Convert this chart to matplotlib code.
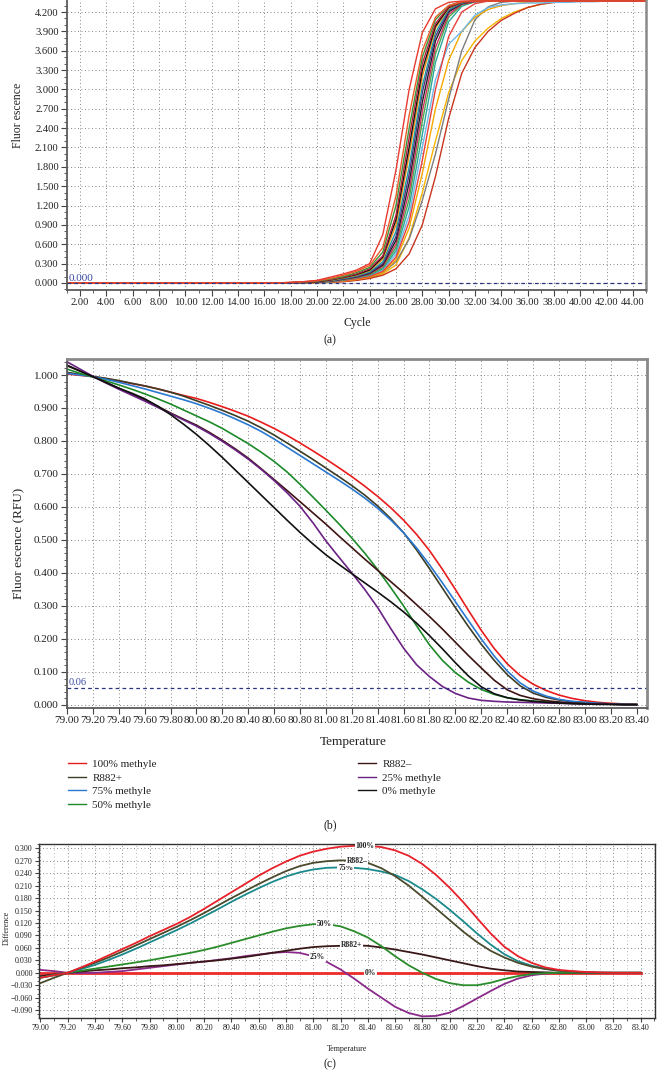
import numpy as np
import matplotlib
matplotlib.use("Agg")
import matplotlib.pyplot as plt
from matplotlib.ticker import MultipleLocator, FormatStrFormatter

plt.rcParams['font.family'] = ['Liberation Serif', 'DejaVu Serif']

# ---------------- Panel (a): amplification curves ----------------
cycles = np.arange(1, 46)
amp_red = [0,0,0,0,0,0,0,0,0,0,0,0,0,0,0,0,0,0.01,0.02,0.04,0.09,0.14,0.20,0.30,0.75,1.75,3.00,3.88,4.25,4.35,4.37,4.37,4.37,4.37,4.37,4.37,4.37,4.37,4.37,4.37,4.37,4.37,4.37,4.37,4.37]
amp_orangered = [0,0,0,0,0,0,0,0,0,0,0,0,0,0,0,0,0,0.01,0.02,0.035,0.07,0.12,0.18,0.27,0.55,1.35,2.60,3.60,4.12,4.30,4.36,4.37,4.37,4.37,4.37,4.37,4.37,4.37,4.37,4.37,4.37,4.37,4.37,4.37,4.37]
amp_green = [0,0,0,0,0,0,0,0,0,0,0,0,0,0,0,0,0,0.005,0.015,0.03,0.06,0.10,0.16,0.24,0.48,1.20,2.40,3.50,4.08,4.30,4.36,4.37,4.37,4.37,4.37,4.37,4.37,4.37,4.37,4.37,4.37,4.37,4.37,4.37,4.37]
amp_crimson = [0,0,0,0,0,0,0,0,0,0,0,0,0,0,0,0,0,0.005,0.012,0.025,0.05,0.09,0.14,0.22,0.42,1.05,2.25,3.40,4.02,4.28,4.35,4.37,4.37,4.37,4.37,4.37,4.37,4.37,4.37,4.37,4.37,4.37,4.37,4.37,4.37]
amp_black = [0,0,0,0,0,0,0,0,0,0,0,0,0,0,0,0,0,0.005,0.01,0.02,0.045,0.085,0.13,0.20,0.40,0.98,2.10,3.30,3.98,4.27,4.35,4.37,4.37,4.37,4.37,4.37,4.37,4.37,4.37,4.37,4.37,4.37,4.37,4.37,4.37]
amp_orange = [0,0,0,0,0,0,0,0,0,0,0,0,0,0,0,0,0,0.004,0.01,0.02,0.04,0.08,0.12,0.19,0.37,0.90,1.98,3.20,3.95,4.26,4.35,4.37,4.37,4.37,4.37,4.37,4.37,4.37,4.37,4.37,4.37,4.37,4.37,4.37,4.37]
amp_teal = [0,0,0,0,0,0,0,0,0,0,0,0,0,0,0,0,0,0.004,0.008,0.018,0.035,0.07,0.11,0.17,0.33,0.80,1.80,3.05,3.88,4.24,4.34,4.37,4.37,4.37,4.37,4.37,4.37,4.37,4.37,4.37,4.37,4.37,4.37,4.37,4.37]
amp_purple = [0,0,0,0,0,0,0,0,0,0,0,0,0,0,0,0,0,0.003,0.008,0.016,0.03,0.065,0.10,0.16,0.30,0.72,1.68,2.95,3.82,4.22,4.34,4.37,4.37,4.37,4.37,4.37,4.37,4.37,4.37,4.37,4.37,4.37,4.37,4.37,4.37]
amp_black2 = [0,0,0,0,0,0,0,0,0,0,0,0,0,0,0,0,0,0.003,0.007,0.015,0.03,0.06,0.095,0.15,0.28,0.66,1.55,2.80,3.75,4.20,4.33,4.37,4.37,4.37,4.37,4.37,4.37,4.37,4.37,4.37,4.37,4.37,4.37,4.37,4.37]
amp_crimson2 = [0,0,0,0,0,0,0,0,0,0,0,0,0,0,0,0,0,0.003,0.006,0.013,0.027,0.055,0.09,0.14,0.26,0.60,1.42,2.65,3.65,4.16,4.32,4.36,4.37,4.37,4.37,4.37,4.37,4.37,4.37,4.37,4.37,4.37,4.37,4.37,4.37]
amp_green2 = [0,0,0,0,0,0,0,0,0,0,0,0,0,0,0,0,0,0.002,0.005,0.012,0.025,0.05,0.085,0.13,0.24,0.55,1.30,2.50,3.55,4.12,4.31,4.36,4.37,4.37,4.37,4.37,4.37,4.37,4.37,4.37,4.37,4.37,4.37,4.37,4.37]
amp_teal2 = [0,0,0,0,0,0,0,0,0,0,0,0,0,0,0,0,0,0.002,0.005,0.011,0.022,0.045,0.08,0.12,0.22,0.50,1.18,2.30,3.42,4.05,4.29,4.36,4.37,4.37,4.37,4.37,4.37,4.37,4.37,4.37,4.37,4.37,4.37,4.37,4.37]
amp_lightblue = [0,0,0,0,0,0,0,0,0,0,0,0,0,0,0,0,0,0.002,0.005,0.01,0.02,0.04,0.07,0.11,0.20,0.45,1.05,2.10,3.15,3.70,3.90,4.15,4.27,4.31,4.33,4.34,4.34,4.35,4.35,4.36,4.36,4.37,4.37,4.37,4.37]
amp_red2 = [0,0,0,0,0,0,0,0,0,0,0,0,0,0,0,0,0,0.002,0.004,0.009,0.018,0.035,0.065,0.10,0.18,0.40,0.95,1.90,3.00,3.82,4.20,4.33,4.37,4.37,4.37,4.37,4.37,4.37,4.37,4.37,4.37,4.37,4.37,4.37,4.37]
amp_yellow = [0,0,0,0,0,0,0,0,0,0,0,0,0,0,0,0,0,0.002,0.004,0.008,0.016,0.03,0.055,0.09,0.16,0.36,0.85,1.70,2.70,3.45,3.90,4.12,4.24,4.30,4.33,4.35,4.36,4.37,4.37,4.37,4.37,4.37,4.37,4.37,4.37]
amp_yellow2 = [0,0,0,0,0,0,0,0,0,0,0,0,0,0,0,0,0,0.001,0.003,0.007,0.014,0.027,0.05,0.08,0.14,0.28,0.70,1.40,2.20,2.95,3.45,3.75,3.95,4.10,4.20,4.27,4.32,4.35,4.36,4.37,4.37,4.37,4.37,4.37,4.37]
amp_gray = [0,0,0,0,0,0,0,0,0,0,0,0,0,0,0,0,0,0.001,0.003,0.006,0.012,0.025,0.045,0.08,0.16,0.33,0.68,1.28,2.00,2.85,3.60,4.08,4.28,4.35,4.37,4.37,4.37,4.37,4.37,4.37,4.37,4.37,4.37,4.37,4.37]
amp_darkred = [0,0,0,0,0,0,0,0,0,0,0,0,0,0,0,0,0,0.001,0.003,0.006,0.011,0.02,0.04,0.07,0.12,0.22,0.45,0.90,1.65,2.55,3.25,3.65,3.90,4.07,4.18,4.27,4.32,4.35,4.36,4.37,4.37,4.37,4.37,4.37,4.37]

amp_series = [amp_yellow2, amp_gray, amp_darkred, amp_yellow, amp_lightblue, amp_red2,
              amp_teal2, amp_green2, amp_crimson2, amp_black2, amp_purple, amp_teal,
              amp_orange, amp_black, amp_crimson, amp_green, amp_orangered, amp_red]
amp_colors = ['#f7b500', '#7d7d7d', '#c8341e', '#f5a800', '#6db6e8', '#e8403a',
              '#2aa69c', '#4aa84a', '#d0305c', '#202020', '#5a2a80', '#1c9ea0',
              '#f08c10', '#111111', '#b81e40', '#3a963a', '#ef5a2a', '#e83a30']
amp_threshold = 0.0
amp_xticks = [2, 4, 6, 8, 10, 12, 14, 16, 18, 20, 22, 24, 26, 28, 30, 32, 34, 36, 38, 40, 42, 44]
amp_yticks = [0.0, 0.3, 0.6, 0.9, 1.2, 1.5, 1.8, 2.1, 2.4, 2.7, 3.0, 3.3, 3.6, 3.9, 4.2]

# ---------------- Panel (b): melt curves ----------------
temps = np.round(np.linspace(79.0, 83.4, 45), 2)
melt_names = ['100% methyle', 'R882+', '75% methyle', '50% methyle', 'R882\u2013', '25% methyle', '0% methyle']
melt_colors = ['#e81c1c', '#3d3d26', '#2a78d0', '#1d8a2a', '#3e1414', '#6a2284', '#111111']
melt_100 = [1.003,0.999,0.995,0.989,0.982,0.974,0.967,0.958,0.948,0.938,
            0.929,0.917,0.904,0.890,0.875,0.857,0.838,0.817,0.794,0.770,
            0.745,0.719,0.692,0.663,0.632,0.598,0.560,0.517,0.468,0.411,
            0.350,0.287,0.226,0.171,0.125,0.089,0.063,0.044,0.030,0.020,
            0.013,0.008,0.005,0.003,0.002]
melt_r882p = [1.008,1.002,0.996,0.990,0.983,0.975,0.967,0.958,0.948,0.936,
              0.922,0.908,0.893,0.877,0.860,0.840,0.818,0.794,0.769,0.744,
              0.718,0.692,0.665,0.636,0.603,0.565,0.522,0.470,0.413,0.354,
              0.295,0.238,0.184,0.135,0.092,0.058,0.036,0.023,0.015,0.010,
              0.007,0.005,0.003,0.002,0.001]
melt_75 = [1.005,1.000,0.995,0.987,0.978,0.968,0.958,0.947,0.936,0.925,
           0.913,0.899,0.884,0.867,0.849,0.829,0.806,0.781,0.756,0.731,
           0.706,0.681,0.655,0.627,0.596,0.561,0.522,0.476,0.425,0.370,
           0.313,0.256,0.200,0.148,0.103,0.067,0.042,0.027,0.017,0.011,
           0.008,0.005,0.003,0.002,0.001]
melt_50 = [1.018,1.005,0.994,0.982,0.970,0.957,0.943,0.928,0.912,0.894,
           0.876,0.858,0.838,0.815,0.792,0.766,0.738,0.706,0.669,0.630,
           0.590,0.549,0.506,0.460,0.410,0.356,0.300,0.240,0.182,0.135,
           0.098,0.069,0.047,0.032,0.022,0.016,0.012,0.009,0.007,0.005,
           0.004,0.003,0.002,0.001,0.001]
melt_r882m = [1.028,1.012,0.996,0.978,0.960,0.942,0.924,0.905,0.885,0.866,
              0.848,0.826,0.802,0.776,0.748,0.716,0.683,0.650,0.616,0.582,
              0.548,0.512,0.477,0.442,0.408,0.374,0.340,0.304,0.268,0.230,
              0.190,0.150,0.112,0.075,0.046,0.029,0.019,0.013,0.009,0.006,
              0.004,0.003,0.002,0.001,0.001]
melt_25 = [1.040,1.018,0.996,0.976,0.957,0.939,0.921,0.902,0.883,0.864,
           0.845,0.823,0.799,0.773,0.745,0.714,0.680,0.643,0.602,0.552,
           0.497,0.448,0.400,0.350,0.295,0.232,0.172,0.122,0.086,0.056,
           0.035,0.021,0.014,0.011,0.009,0.008,0.007,0.006,0.005,0.004,
           0.003,0.002,0.002,0.001,0.001]
melt_0 = [1.030,1.012,0.995,0.977,0.960,0.945,0.928,0.906,0.880,0.851,
          0.820,0.786,0.750,0.712,0.674,0.636,0.598,0.560,0.523,0.488,
          0.455,0.426,0.398,0.370,0.342,0.313,0.282,0.248,0.210,0.170,
          0.128,0.088,0.055,0.034,0.022,0.015,0.011,0.008,0.006,0.004,
          0.003,0.002,0.002,0.001,0.001]
melt_series = [melt_100, melt_r882p, melt_75, melt_50, melt_r882m, melt_25, melt_0]
melt_threshold = 0.05
melt_xticks = [79.0, 79.2, 79.4, 79.6, 79.8, 80.0, 80.2, 80.4, 80.6, 80.8, 81.0, 81.2,
               81.4, 81.6, 81.8, 82.0, 82.2, 82.4, 82.6, 82.8, 83.0, 83.2, 83.4]

# ---------------- Panel (c): difference curves ----------------
diff_100 = [-0.012,-0.006,0.000,0.013,0.027,0.042,0.057,0.072,0.088,0.103,
            0.118,0.135,0.154,0.174,0.194,0.214,0.234,0.252,0.268,0.282,
            0.292,0.299,0.304,0.306,0.306,0.303,0.295,0.282,0.262,0.236,
            0.205,0.170,0.132,0.095,0.063,0.040,0.024,0.013,0.007,0.004,
            0.002,0.001,0.000,0.000,0.000]
diff_r882m = [-0.025,-0.012,0.000,0.012,0.024,0.037,0.051,0.066,0.081,0.096,
              0.111,0.127,0.144,0.162,0.180,0.197,0.214,0.230,0.245,0.257,
              0.265,0.269,0.271,0.270,0.265,0.252,0.233,0.210,0.183,0.155,
              0.127,0.099,0.074,0.053,0.037,0.024,0.015,0.009,0.005,0.003,
              0.001,0.000,0.000,0.000,0.000]
diff_75 = [-0.012,-0.006,0.000,0.009,0.019,0.031,0.044,0.058,0.073,0.088,
           0.103,0.119,0.136,0.153,0.171,0.188,0.204,0.219,0.232,0.242,
           0.249,0.253,0.254,0.253,0.250,0.244,0.236,0.221,0.201,0.178,
           0.152,0.124,0.095,0.068,0.045,0.028,0.017,0.010,0.005,0.003,
           0.001,0.000,0.000,0.000,0.000]
diff_50 = [-0.012,-0.005,0.000,0.005,0.010,0.015,0.020,0.025,0.030,0.036,
           0.042,0.048,0.055,0.063,0.072,0.081,0.090,0.099,0.107,0.113,
           0.117,0.117,0.112,0.100,0.085,0.064,0.040,0.018,0.000,-0.015,
           -0.025,-0.030,-0.030,-0.024,-0.015,-0.008,-0.003,-0.001,0.000,0.000,
           0.000,0.000,0.000,0.000,0.000]
diff_r882p = [-0.008,-0.004,0.000,0.003,0.006,0.008,0.011,0.013,0.016,0.018,
              0.021,0.024,0.027,0.030,0.034,0.038,0.043,0.048,0.053,0.058,
              0.062,0.064,0.065,0.066,0.065,0.061,0.056,0.050,0.044,0.037,
              0.030,0.023,0.016,0.010,0.006,0.003,0.002,0.001,0.000,0.000,
              0.000,0.000,0.000,0.000,0.000]
diff_25 = [0.007,0.004,0.000,-0.001,0.000,0.002,0.004,0.008,0.012,0.016,
           0.020,0.024,0.027,0.031,0.035,0.040,0.044,0.048,0.050,0.048,
           0.040,0.026,0.008,-0.014,-0.038,-0.060,-0.082,-0.097,-0.105,-0.104,
           -0.096,-0.080,-0.062,-0.044,-0.027,-0.014,-0.006,-0.002,0.000,0.000,
           0.000,0.000,0.000,0.000,0.000]
diff_0 = [0.0,0.0,0.0,0.0,0.0,0.0,0.0,0.0,0.0,0.0,
          0.0,0.0,0.0,0.0,0.0,0.0,0.0,0.0,0.0,0.0,
          0.0,0.0,0.0,0.0,0.0,0.0,0.0,0.0,0.0,0.0,
          0.0,0.0,0.0,0.0,0.0,0.0,0.0,0.0,0.0,0.0,
          0.0,0.0,0.0,0.0,0.0]
diff_series = [diff_0, diff_25, diff_r882p, diff_50, diff_75, diff_r882m, diff_100]
diff_series_names = ['0%', '25%', 'R882+', '50%', '75%', 'R882\u2013', '100%']
diff_series_colors = ['#ec2a2a', '#8a2a8a', '#3a1818', '#2a8c2a', '#1a8a8c', '#4a4a2c', '#e8202a']
diff_label_pos = {'100%': (81.38, 0.306), 'R882\u2013': (81.32, 0.270), '75%': (81.24, 0.253),
                  '50%': (81.08, 0.117), 'R882+': (81.28, 0.066), '25%': (81.03, 0.037),
                  '0%': (81.42, 0.0)}
diff_xticks = melt_xticks
diff_yticks = [-0.09, -0.06, -0.03, 0.0, 0.03, 0.06, 0.09, 0.12, 0.15, 0.18, 0.21, 0.24, 0.27, 0.30]

# ---------------- Figure ----------------
W, H = 658, 1074
fig = plt.figure(figsize=(W / 100, H / 100), dpi=100)

GRID = dict(linestyle=(0, (1, 2.6)), color='#8a8a8a', linewidth=0.7)
SPC = '#5a5a5a'


def style_axes(ax, lab, spine_lw=1.3):
    for s in ax.spines.values():
        s.set_color(SPC)
        s.set_linewidth(spine_lw)
    ax.tick_params(which='major', direction='out', length=4, width=0.8, color='#444444',
                   labelsize=lab, pad=2, labelcolor='#222222')
    ax.tick_params(which='minor', direction='out', length=2.2, width=0.6, color='#444444')


# (a)
axA = fig.add_axes([67 / W, 1 - 290 / H, 579 / W, 295 / H])
for vals, col in zip(amp_series, amp_colors):
    axA.plot(cycles, vals, color=col, lw=1.0)
axA.axhline(amp_threshold, color='#2a3580', lw=0.9, ls=(0, (3, 2.5)))
axA.text(1.12, 0.075, '0.000', color='#3b4aa5', fontsize=8, ha='left', va='center')
axA.set_xlim(1, 45)
axA.set_ylim(-0.109, 4.464)
axA.set_xticks(amp_xticks)
axA.set_xticklabels(['%.2f' % v for v in amp_xticks])
axA.xaxis.set_minor_locator(MultipleLocator(1))
axA.set_yticks(amp_yticks)
axA.set_yticklabels(['%.3f' % v for v in amp_yticks])
axA.yaxis.set_minor_locator(MultipleLocator(0.1))
axA.grid(True, which='major', **GRID)
style_axes(axA, 7.6)
axA.spines['top'].set_visible(False)
axA.spines['right'].set_color('#8a8a8a')
axA.spines['right'].set_linewidth(1.8)
fig.text(357 / W, 1 - 323 / H, 'Cycle', ha='center', va='center', fontsize=8.5, color='#222222')
fig.text(18 / W, 1 - 115 / H, 'Fluor escence', ha='center', va='center', rotation=90,
         fontsize=8.5, color='#222222')
fig.text(330 / W, 1 - 340 / H, '(a)', ha='center', va='center', fontsize=8.5, color='#222222')

# (b)
axB = fig.add_axes([67 / W, 1 - 707.6 / H, 580 / W, 348.6 / H])
handles = []
for vals, col, name in zip(melt_series, melt_colors, melt_names):
    ln, = axB.plot(temps, vals, color=col, lw=1.2, label=name)
    handles.append(ln)
axB.axhline(melt_threshold, color='#2a3580', lw=0.9, ls=(0, (3, 2.5)))
axB.text(79.015, 0.068, '0.06', color='#3b4aa5', fontsize=7.5, ha='left', va='center')
axB.set_xlim(79.0, 83.48)
axB.set_ylim(-0.008, 1.0485)
axB.set_xticks(melt_xticks)
axB.set_xticklabels(['%.2f' % v for v in melt_xticks])
axB.set_yticks(np.round(np.arange(0, 1.01, 0.1), 1))
axB.yaxis.set_major_formatter(FormatStrFormatter('%.3f'))
axB.yaxis.set_minor_locator(MultipleLocator(0.02))
axB.grid(True, which='major', **GRID)
style_axes(axB, 8)
for s in ['top', 'right']:
    axB.spines[s].set_color('#8a8a8a')
    axB.spines[s].set_linewidth(2.0)
fig.text(353 / W, 1 - 742 / H, 'Temperature', ha='center', va='center', fontsize=9.5, color='#222222')
fig.text(18 / W, 1 - 543 / H, 'Fluor escence (RFU)', ha='center', va='center', rotation=90,
         fontsize=9.5, color='#222222')

leg_kw = dict(frameon=False, fontsize=8, handlelength=1.6, handletextpad=0.6,
              labelspacing=0.36, borderpad=0, borderaxespad=0, loc='upper left',
              bbox_transform=fig.transFigure)
leg1 = axB.legend(handles[:4], melt_names[:4], bbox_to_anchor=(68 / W, 1 - 759 / H), **leg_kw)
axB.add_artist(leg1)
leg2 = axB.legend(handles[4:], melt_names[4:], bbox_to_anchor=(358 / W, 1 - 759 / H), **leg_kw)
for lg in (leg1, leg2):
    for t in lg.get_texts():
        t.set_color('#222222')
    for l in lg.get_lines():
        l.set_linewidth(1.0)
fig.text(330 / W, 1 - 825 / H, '(b)', ha='center', va='center', fontsize=8.5, color='#222222')

# (c)
axC = fig.add_axes([39 / W, 1 - 1018 / H, 616 / W, 174 / H])
for vals, col, name in zip(diff_series, diff_series_colors, diff_series_names):
    axC.plot(temps, vals, color=col, lw=2.0 if name == '0%' else 1.3)
for name in diff_series_names:
    x, y = diff_label_pos[name]
    axC.text(x, y, name, ha='center', va='center', fontsize=5.5, fontweight='bold',
             color='#222222', zorder=5,
             bbox=dict(boxstyle='square,pad=0.12', fc='white', ec='none'))
axC.set_xlim(78.99, 83.505)
axC.set_ylim(-0.109, 0.3104)
axC.set_xticks(diff_xticks)
axC.set_xticklabels(['%.2f' % v for v in diff_xticks])
axC.xaxis.set_minor_locator(MultipleLocator(0.1))
axC.set_yticks(diff_yticks)
axC.set_yticklabels(['%.3f' % v if v >= 0 else '\u2212%.3f' % abs(v) for v in diff_yticks])
axC.yaxis.set_minor_locator(MultipleLocator(0.01))
axC.grid(True, which='major', **GRID)
axC.grid(True, which='minor', axis='x', linestyle=(0, (1, 3.2)), color='#a0a0a0', linewidth=0.6)
style_axes(axC, 5.8, spine_lw=1.0)
for s in axC.spines.values():
    s.set_color('#333333')
axC.tick_params(which='major', length=3, pad=1.5)
axC.tick_params(which='minor', length=1.8)
fig.text(347 / W, 1 - 1049 / H, 'Temperature', ha='center', va='center', fontsize=5.8, color='#222222')
fig.text(7 / W, 1 - 928 / H, 'Difference', ha='center', va='center', rotation=90,
         fontsize=5.8, color='#222222')
fig.text(330 / W, 1 - 1064 / H, '(c)', ha='center', va='center', fontsize=8.5, color='#222222')

fig.savefig('out.png', dpi=100, facecolor='white')
